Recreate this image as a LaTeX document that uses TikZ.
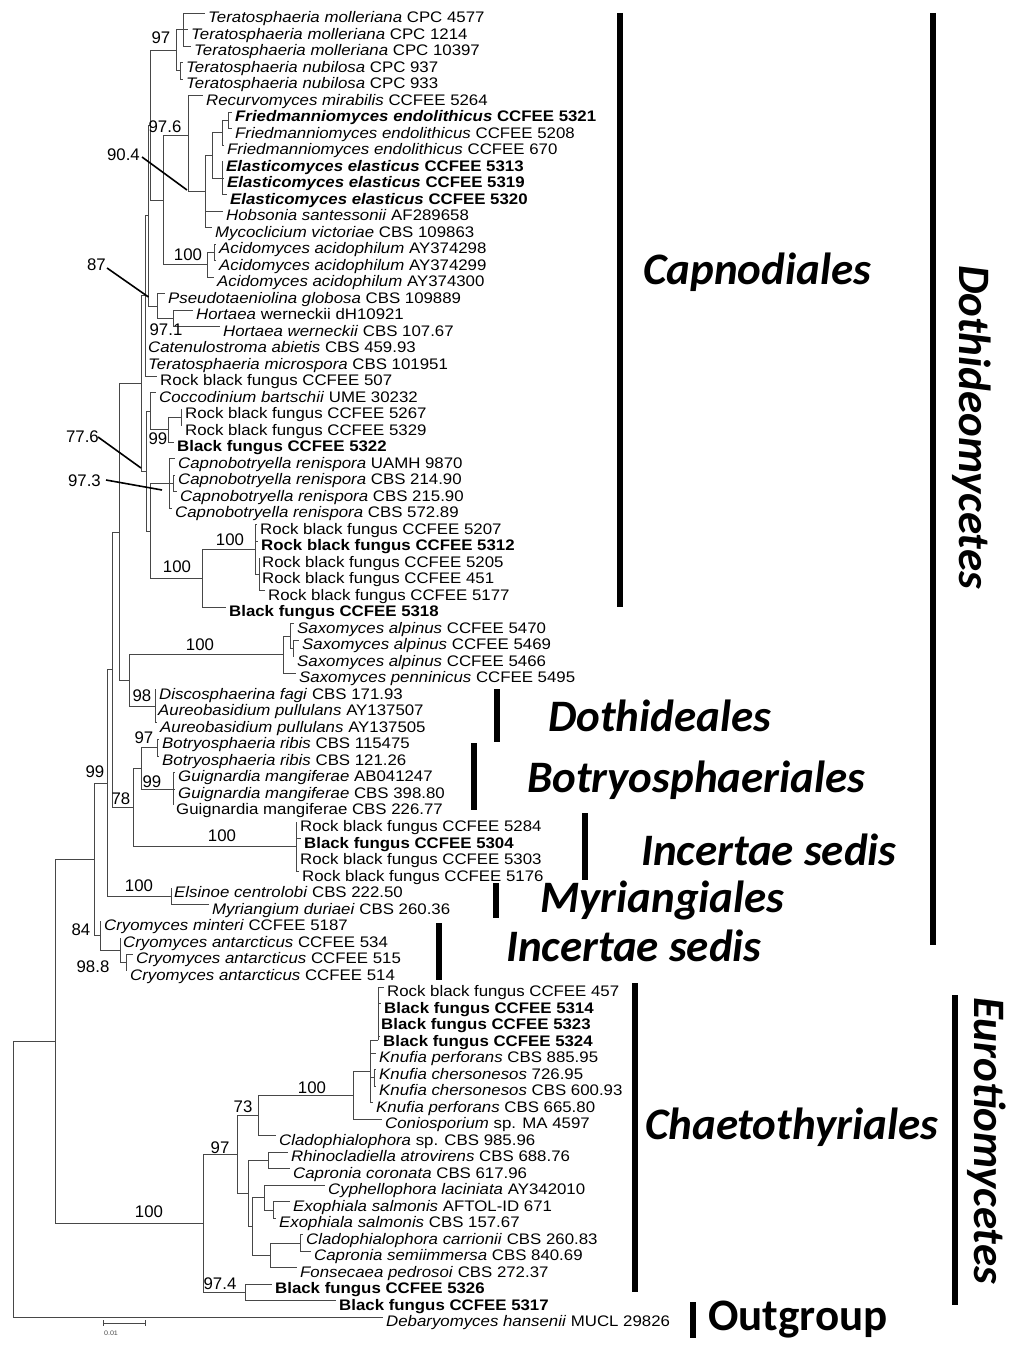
\documentclass[tikz,border=0pt]{standalone}
\usepackage{fontspec}
\setmainfont{Liberation Sans}[FakeStretch=1.1]
\newfontfamily\supfont{Liberation Sans}
\newfontfamily\cladefont{Carlito}
\newcommand\tipnode[3]{\coordinate (e#1) at (#2,{13+16.51*(#1-1)});
  \node[tiplab] (t#1) at (e#1) {#3};}
\begin{document}
\begin{tikzpicture}[x=1pt,y=-1pt,
  br/.style={draw=black!72, line width=0.9pt},
  tiplab/.style={anchor=base west, inner sep=0pt, font=\fontsize{15.3}{16}\selectfont, xshift=3pt, yshift=-9.5pt},
  sup/.style={inner sep=0pt, font=\supfont\fontsize{16.8}{17}\selectfont},
  ptr/.style={draw=black, line width=1.6pt},
  bar/.style={draw=black, line width=6pt},
  clab/.style={inner sep=0pt, font=\cladefont\bfseries\itshape\fontsize{45}{50}\selectfont},
  olab/.style={inner sep=0pt, font=\cladefont\bfseries\fontsize{45}{50}\selectfont}]
\useasboundingbox[fill=white] (0,0) rectangle (1024,1351);

% ---- tips ----
\tipnode{1}{205}{\textit{Teratosphaeria molleriana} CPC 4577}
\tipnode{2}{188}{\textit{Teratosphaeria molleriana} CPC 1214}
\tipnode{3}{191}{\textit{Teratosphaeria molleriana} CPC 10397}
\tipnode{4}{183}{\textit{Teratosphaeria nubilosa} CPC 937}
\tipnode{5}{183}{\textit{Teratosphaeria nubilosa} CPC 933}
\tipnode{6}{203}{\textit{Recurvomyces mirabilis} CCFEE 5264}
\tipnode{7}{232}{\textbf{\textit{Friedmanniomyces endolithicus} CCFEE 5321}}
\tipnode{8}{232}{\textit{Friedmanniomyces endolithicus} CCFEE 5208}
\tipnode{9}{224}{\textit{Friedmanniomyces endolithicus} CCFEE 670}
\tipnode{10}{223}{\textbf{\textit{Elasticomyces elasticus} CCFEE 5313}}
\tipnode{11}{224}{\textbf{\textit{Elasticomyces elasticus} CCFEE 5319}}
\tipnode{12}{227}{\textbf{\textit{Elasticomyces elasticus} CCFEE 5320}}
\tipnode{13}{223}{\textit{Hobsonia santessonii} AF289658}
\tipnode{14}{212}{\textit{Mycoclicium victoriae} CBS 109863}
\tipnode{15}{216}{\textit{Acidomyces acidophilum} AY374298}
\tipnode{16}{216}{\textit{Acidomyces acidophilum} AY374299}
\tipnode{17}{214}{\textit{Acidomyces acidophilum} AY374300}
\tipnode{18}{165}{\textit{Pseudotaeniolina globosa} CBS 109889}
\tipnode{19}{193}{\textit{Hortaea} werneckii dH10921}
\tipnode{20}{220}{\textit{Hortaea werneckii} CBS 107.67}
\tipnode{21}{145}{\textit{Catenulostroma abietis} CBS 459.93}
\tipnode{22}{145}{\textit{Teratosphaeria microspora} CBS 101951}
\tipnode{23}{157}{Rock black fungus CCFEE 507}
\tipnode{24}{156}{\textit{Coccodinium bartschii} UME 30232}
\tipnode{25}{182}{Rock black fungus CCFEE 5267}
\tipnode{26}{182}{Rock black fungus CCFEE 5329}
\tipnode{27}{174}{\textbf{Black fungus CCFEE 5322}}
\tipnode{28}{175}{\textit{Capnobotryella renispora} UAMH 9870}
\tipnode{29}{175}{\textit{Capnobotryella renispora} CBS 214.90}
\tipnode{30}{177}{\textit{Capnobotryella renispora} CBS 215.90}
\tipnode{31}{172}{\textit{Capnobotryella renispora} CBS 572.89}
\tipnode{32}{257}{Rock black fungus CCFEE 5207}
\tipnode{33}{258}{\textbf{Rock black fungus CCFEE 5312}}
\tipnode{34}{259}{Rock black fungus CCFEE 5205}
\tipnode{35}{259}{Rock black fungus CCFEE 451}
\tipnode{36}{265}{Rock black fungus CCFEE 5177}
\tipnode{37}{226}{\textbf{Black fungus CCFEE 5318}}
\tipnode{38}{294}{\textit{Saxomyces alpinus} CCFEE 5470}
\tipnode{39}{299}{\textit{Saxomyces alpinus} CCFEE 5469}
\tipnode{40}{294}{\textit{Saxomyces alpinus} CCFEE 5466}
\tipnode{41}{296}{\textit{Saxomyces penninicus} CCFEE 5495}
\tipnode{42}{156}{\textit{Discosphaerina fagi} CBS 171.93}
\tipnode{43}{155}{\textit{Aureobasidium pullulans} AY137507}
\tipnode{44}{157}{\textit{Aureobasidium pullulans} AY137505}
\tipnode{45}{159}{\textit{Botryosphaeria ribis} CBS 115475}
\tipnode{46}{159}{\textit{Botryosphaeria ribis} CBS 121.26}
\tipnode{47}{175}{\textit{Guignardia mangiferae} AB041247}
\tipnode{48}{175}{\textit{Guignardia mangiferae} CBS 398.80}
\tipnode{49}{173}{Guignardia mangiferae CBS 226.77}
\tipnode{50}{297}{Rock black fungus CCFEE 5284}
\tipnode{51}{301}{\textbf{Black fungus CCFEE 5304}}
\tipnode{52}{297}{Rock black fungus CCFEE 5303}
\tipnode{53}{299}{Rock black fungus CCFEE 5176}
\tipnode{54}{171}{\textit{Elsinoe centrolobi} CBS 222.50}
\tipnode{55}{209}{\textit{Myriangium duriaei} CBS 260.36}
\tipnode{56}{101}{\textit{Cryomyces minteri} CCFEE 5187}
\tipnode{57}{120}{\textit{Cryomyces antarcticus} CCFEE 534}
\tipnode{58}{133}{\textit{Cryomyces antarcticus} CCFEE 515}
\tipnode{59}{127}{\textit{Cryomyces antarcticus} CCFEE 514}
\tipnode{60}{384}{Rock black fungus CCFEE 457}
\tipnode{61}{381}{\textbf{Black fungus CCFEE 5314}}
\tipnode{62}{378}{\textbf{Black fungus CCFEE 5323}}
\tipnode{63}{380}{\textbf{Black fungus CCFEE 5324}}
\tipnode{64}{376}{\textit{Knufia perforans} CBS 885.95}
\tipnode{65}{376}{\textit{Knufia chersonesos} 726.95}
\tipnode{66}{376}{\textit{Knufia chersonesos} CBS 600.93}
\tipnode{67}{373}{\textit{Knufia perforans} CBS 665.80}
\tipnode{68}{382}{\textit{Coniosporium} sp. MA 4597}
\tipnode{69}{276}{\textit{Cladophialophora} sp. CBS 985.96}
\tipnode{70}{288}{\textit{Rhinocladiella atrovirens} CBS 688.76}
\tipnode{71}{290}{\textit{Capronia coronata} CBS 617.96}
\tipnode{72}{325}{\textit{Cyphellophora laciniata} AY342010}
\tipnode{73}{290}{\textit{Exophiala salmonis} AFTOL-ID 671}
\tipnode{74}{276}{\textit{Exophiala salmonis} CBS 157.67}
\tipnode{75}{303}{\textit{Cladophialophora carrionii} CBS 260.83}
\tipnode{76}{311}{\textit{Capronia semiimmersa} CBS 840.69}
\tipnode{77}{297}{\textit{Fonsecaea pedrosoi} CBS 272.37}
\tipnode{78}{272}{\textbf{Black fungus CCFEE 5326}}
\tipnode{79}{336}{\textbf{Black fungus CCFEE 5317}}
\tipnode{80}{383}{\textit{Debaryomyces hansenii} MUCL 29826}

% ---- internal nodes ----
\coordinate (a1) at (183,29.5);
\coordinate (a2) at (180,70.8);
\coordinate (a3) at (176,50.2);
\coordinate (a9) at (228,120.4);
\coordinate (a8) at (222,132.7);
\coordinate (a10) at (222,178.1);
\coordinate (a7) at (212,155.4);
\coordinate (a6) at (205,191.5);
\coordinate (a5) at (188,135);
\coordinate (a12) at (214,252.4);
\coordinate (a11) at (207,264.8);
\coordinate (a13) at (163,200);
\coordinate (a14) at (150,125.1);
\coordinate (p1) at (173,318.5);
\coordinate (p2) at (157,306.1);
\coordinate (n87) at (148,215.6);
\coordinate (B0) at (145,295.9);
\coordinate (co1) at (181,417.5);
\coordinate (co2) at (168,429.9);
\coordinate (co3) at (150,411.3);
\coordinate (cap1) at (173,483.5);
\coordinate (cap2) at (169,483.5);
\coordinate (c2) at (259,574.3);
\coordinate (c1) at (255,549.6);
\coordinate (c3) at (202,578.5);
\coordinate (D) at (150,531);
\coordinate (E) at (146,471.2);
\coordinate (B1) at (141,383.5);
\coordinate (s3) at (293,648.6);
\coordinate (s2) at (290,636.3);
\coordinate (s1) at (283,654.8);
\coordinate (au) at (155,706.4);
\coordinate (dth) at (129,680.6);
\coordinate (F) at (119,532);
\coordinate (b1) at (157,747.7);
\coordinate (b2) at (173,789);
\coordinate (b3) at (141,768.4);
\coordinate (i1) at (296,846.8);
\coordinate (n78) at (133,807.6);
\coordinate (G) at (112,669.8);
\coordinate (m1) at (171,896.3);
\coordinate (H) at (107,783);
\coordinate (cr1) at (126,962.3);
\coordinate (cr2) at (120,950);
\coordinate (cr3) at (100,935.5);
\coordinate (I) at (94,859.3);
\coordinate (E8) at (378,1040);
\coordinate (E9) at (374,1077.9);
\coordinate (E7) at (370,1071);
\coordinate (E6) at (353,1095);
\coordinate (E4) at (258,1115);
\coordinate (E10) at (268,1160.5);
\coordinate (E14) at (273,1210);
\coordinate (E11) at (264,1197.6);
\coordinate (E15) at (300,1243);
\coordinate (E12) at (270,1255.4);
\coordinate (E13) at (252,1226.5);
\coordinate (E5) at (248,1193.5);
\coordinate (E2) at (237,1154);
\coordinate (E3) at (245,1292.6);
\coordinate (E1) at (203,1223);
\coordinate (J) at (55,1041);
\coordinate (K) at (13,1179);

% ---- branches ----
\foreach \p/\c in {a1/e1,a1/e2,a1/e3,a2/e4,a2/e5,a3/a1,a3/a2,a9/e7,a9/e8,a8/a9,a8/e9,
  a10/e10,a10/e11,a10/e12,a7/a8,a7/a10,a6/a7,a6/e13,a6/e14,a5/e6,a5/a6,a12/e15,a12/e16,
  a11/a12,a11/e17,a13/a5,a13/a11,a14/a3,a14/a13,p1/e19,p1/e20,p2/e18,p2/p1,n87/a14,n87/p2,
  B0/n87,B0/e21,B0/e22,B0/e23,co1/e25,co1/e26,co2/co1,co2/e27,co3/e24,co3/co2,
  cap1/e29,cap1/e30,cap2/e28,cap2/cap1,cap2/e31,c2/e34,c2/e35,c2/e36,c1/e32,c1/e33,c1/c2,
  c3/c1,c3/e37,D/cap2,D/c3,E/co3,E/D,B1/B0,B1/E,s3/e39,s3/e40,s2/e38,s2/s3,s1/s2,s1/e41,
  au/e42,au/e43,au/e44,dth/s1,dth/au,F/B1,F/dth,b1/e45,b1/e46,b2/e47,b2/e48,b2/e49,
  b3/b1,b3/b2,i1/e50,i1/e51,i1/e52,i1/e53,n78/b3,n78/i1,G/F,G/n78,m1/e54,m1/e55,H/G,H/m1,
  cr1/e58,cr1/e59,cr2/e57,cr2/cr1,cr3/e56,cr3/cr2,I/H,I/cr3,
  E8/e60,E8/e61,E8/e62,E8/e63,E9/e65,E9/e66,E7/E8,E7/e64,E7/E9,E7/e67,E6/E7,E6/e68,
  E4/E6,E4/e69,E10/e70,E10/e71,E14/e73,E14/e74,E11/e72,E11/E14,E15/e75,E15/e76,
  E12/E15,E12/e77,E13/E11,E13/E12,E5/E10,E5/E13,E2/E4,E2/E5,E3/e78,E3/e79,E1/E2,E1/E3,
  J/I,J/E1,K/J,K/e80}
  \draw[br] (\p) |- (\c);

% ---- support values ----
\node[sup] (v1) at (161,38) {97};
\node[sup] (v2) at (165,127) {97.6};
\node[sup, anchor=east] (v3) at (140,155) {90.4};
\node[sup] (v4) at (188,255) {100};
\node[sup, anchor=east] (v5) at (106,265) {87};
\node[sup] (v6) at (166,330) {97.1};
\node[sup, anchor=east] (v7) at (99,437) {77.6};
\node[sup] (v8) at (158,439) {99};
\node[sup, anchor=east] (v9) at (101,481) {97.3};
\node[sup] (v10) at (230,540) {100};
\node[sup] (v11) at (177,567) {100};
\node[sup] (v12) at (200,645) {100};
\node[sup] (v13) at (142,696) {98};
\node[sup] (v14) at (144,738) {97};
\node[sup] (v15) at (152,782) {99};
\node[sup] (v16) at (95,772) {99};
\node[sup] (v17) at (121,799) {78};
\node[sup] (v18) at (222,836) {100};
\node[sup] (v19) at (139,886) {100};
\node[sup] (v20) at (81,930) {84};
\node[sup] (v21) at (93,967) {98.8};
\node[sup] (v22) at (312,1088) {100};
\node[sup] (v23) at (243,1107) {73};
\node[sup] (v24) at (220,1148) {97};
\node[sup] (v25) at (149,1212) {100};
\node[sup] (v26) at (220,1284) {97.4};

\coordinate (q3) at (187,190);
\coordinate (q5) at (148.5,297);
\coordinate (q7) at (141,468);
\coordinate (q9) at (162,490);
\draw[ptr] (v3.east) ++(2,2) -- (q3);
\draw[ptr] (v5.east) ++(1,3) -- (q5);
\draw[ptr] (v7.east) ++(-1,0) -- (q7);
\draw[ptr] (v9.east) ++(5,-1) -- (q9);

% ---- scale bar ----
\coordinate (sb1) at (103,1323);
\coordinate (sb2) at (145,1323);
\draw[br, line width=0.6pt] (sb1) -- (sb2);
\draw[br, line width=0.6pt] ([yshift=3pt]sb1) -- ([yshift=-3pt]sb1);
\draw[br, line width=0.6pt] ([yshift=3pt]sb2) -- ([yshift=-3pt]sb2);
\node[inner sep=0pt, font=\fontsize{6.5}{7}\selectfont, text=black!70] (sbl) at (111,1333) {0.01};

% ---- clade bars ----
\coordinate (capT) at (620,13);   \coordinate (capB) at (620,607);
\coordinate (dtmT) at (933,13);   \coordinate (dtmB) at (933,945);
\coordinate (dthT) at (497,689);  \coordinate (dthB) at (497,742);
\coordinate (botT) at (474,743);  \coordinate (botB) at (474,810);
\coordinate (in1T) at (585,813);  \coordinate (in1B) at (585,880);
\coordinate (myrT) at (496,883);  \coordinate (myrB) at (496,918);
\coordinate (in2T) at (439,923);  \coordinate (in2B) at (439,980);
\coordinate (chaT) at (635,983);  \coordinate (chaB) at (635,1292);
\coordinate (eurT) at (955,995);  \coordinate (eurB) at (955,1305);
\coordinate (outT) at (693,1302); \coordinate (outB) at (693,1338);
\foreach \a/\b in {capT/capB,dtmT/dtmB,dthT/dthB,botT/botB,in1T/in1B,myrT/myrB,in2T/in2B,chaT/chaB,eurT/eurB,outT/outB}
  \draw[bar] (\a) -- (\b);

% ---- clade labels ----
\node[clab, anchor=west] (Lcap) at (643,272) {Capnodiales};
\node[clab, anchor=west] (Ldth) at (548,716) {Dothideales};
\node[clab, anchor=west] (Lbot) at (527,780) {Botryosphaeriales};
\node[clab, anchor=west] (Lin1) at (641,850) {Incertae sedis};
\node[clab, anchor=west] (Lmyr) at (540,900) {Myriangiales};
\node[clab, anchor=west] (Lin2) at (506,946) {Incertae sedis};
\node[clab, anchor=west] (Lcha) at (645,1127) {Chaetothyriales};
\node[olab, anchor=west] (Lout) at (708,1320) {Outgroup};
\node[clab, rotate=-90, anchor=west] (Ldtm) at (972,265) {Dothideomycetes};
\node[clab, rotate=-90, anchor=west] (Leur) at (987,997) {Eurotiomycetes};
\end{tikzpicture}
\end{document}
